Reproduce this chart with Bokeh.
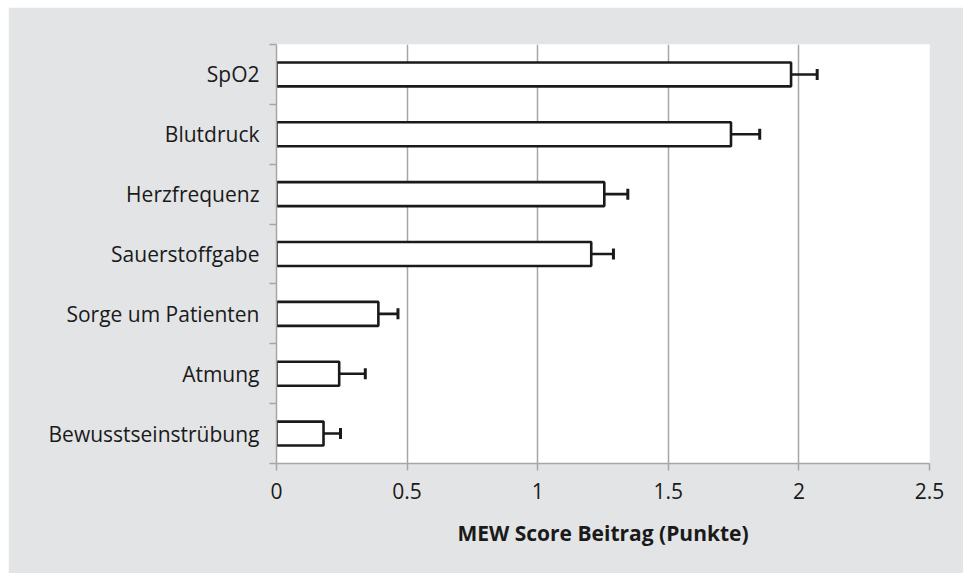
from bokeh.plotting import figure
from bokeh.models import FixedTicker, Whisker, ColumnDataSource, TeeHead, Range1d
from bokeh.embed import file_html
from bokeh.resources import INLINE

categories = ["SpO2", "Blutdruck", "Herzfrequenz", "Sauerstoffgabe",
              "Sorge um Patienten", "Atmung", "Bewusstseinstrübung"]
values = [1.97, 1.74, 1.255, 1.205, 0.39, 0.24, 0.18]
errors = [0.10, 0.11, 0.09, 0.085, 0.075, 0.10, 0.065]
x_ticks = [0, 0.5, 1, 1.5, 2, 2.5]
x_tick_labels = ["0", "0.5", "1", "1.5", "2", "2.5"]
x_title = "MEW Score Beitrag (Punkte)"

n = len(categories)
ys = [n - i - 0.5 for i in range(n)]
upper = [v + e for v, e in zip(values, errors)]

src = ColumnDataSource(dict(y=ys, v=values, up=upper))

FONT = "Open Sans"
GRAY = "#a6a6a6"
BG = "#e3e4e6"
TXT = "#1a1a1a"

p = figure(width=955, height=566, output_backend="svg", toolbar_location=None,
           x_range=Range1d(0, 2.5), y_range=Range1d(0, n),
           min_border_left=268, min_border_right=34, min_border_top=37,
           min_border_bottom=110, margin=(7, 6, 1, 8))
p.background_fill_color = "white"
p.border_fill_color = BG
p.outline_line_color = None

p.hbar(y="y", right="v", left=0, height=0.4, source=src,
       fill_color="white", line_color="#1a1a1a", line_width=2.6)

w = Whisker(base="y", lower="v", upper="up", dimension="width", source=src,
            line_color="#1a1a1a", line_width=2.6,
            upper_head=TeeHead(size=11, line_color="#1a1a1a", line_width=3),
            lower_head=None)
p.add_layout(w)

# x axis
p.xaxis.ticker = FixedTicker(ticks=x_ticks)
p.xaxis.major_label_overrides = {t: l for t, l in zip(x_ticks, x_tick_labels)}
p.xaxis.axis_line_color = GRAY
p.xaxis.axis_line_width = 1.5
p.xaxis.major_tick_line_color = GRAY
p.xaxis.major_tick_line_width = 1.5
p.xaxis.major_tick_out = 7
p.xaxis.major_tick_in = 0
p.xaxis.minor_tick_line_color = None
p.xaxis.major_label_text_font = FONT
p.xaxis.major_label_text_font_size = "21px"
p.xaxis.major_label_text_color = TXT
p.xaxis.major_label_standoff = 12
p.xaxis.axis_label = x_title
p.xaxis.axis_label_text_font = FONT
p.xaxis.axis_label_text_font_size = "21px"
p.xaxis.axis_label_text_font_style = "bold"
p.xaxis.axis_label_text_color = TXT
p.xaxis.axis_label_standoff = 17

# y axis: labels at centers, boundary ticks via minor ticks
p.yaxis.ticker = FixedTicker(ticks=ys, minor_ticks=list(range(n + 1)))
p.yaxis.major_label_overrides = {y: c for y, c in zip(ys, categories)}
p.yaxis.axis_line_color = GRAY
p.yaxis.axis_line_width = 1.5
p.yaxis.major_tick_line_color = None
p.yaxis.major_tick_out = 0
p.yaxis.major_tick_in = 0
p.yaxis.minor_tick_line_color = GRAY
p.yaxis.minor_tick_line_width = 1.5
p.yaxis.minor_tick_out = 7
p.yaxis.minor_tick_in = 0
p.yaxis.major_label_text_font = FONT
p.yaxis.major_label_text_font_size = "21px"
p.yaxis.major_label_text_color = TXT
p.yaxis.major_label_standoff = 10

p.xgrid.grid_line_color = GRAY
p.xgrid.grid_line_width = 1.5
p.ygrid.grid_line_color = None

open("out.html", "w").write(file_html(p, INLINE))
